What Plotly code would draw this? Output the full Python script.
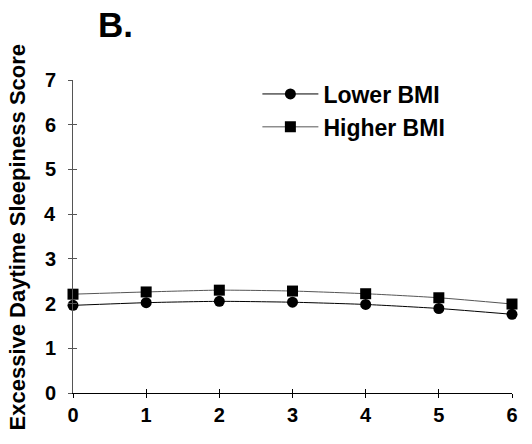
import plotly.graph_objects as go

x_vals = [0, 1, 2, 3, 4, 5, 6]
lower_bmi = [1.96, 2.02, 2.05, 2.03, 1.98, 1.89, 1.76]
higher_bmi = [2.21, 2.26, 2.30, 2.28, 2.22, 2.13, 1.99]
y_ticks = [0, 1, 2, 3, 4, 5, 6, 7]

font_family = "Liberation Sans, Arial, sans-serif"
PLOT_W = 532 - 73 - 20
PLOT_H = 444 - 80 - 51

fig = go.Figure()
fig.add_trace(go.Scatter(
    x=x_vals, y=lower_bmi, name="<b>Lower BMI</b>", mode="lines+markers",
    line=dict(color="black", width=1, shape="spline", smoothing=0.6),
    marker=dict(symbol="circle", size=11, color="black"),
    cliponaxis=False,
))
fig.add_trace(go.Scatter(
    x=x_vals, y=higher_bmi, name="<b>Higher BMI</b>", mode="lines+markers",
    line=dict(color="#555555", width=1, shape="spline", smoothing=0.6),
    marker=dict(symbol="square", size=11, color="black"),
    cliponaxis=False,
))
# empty trace to draw overlay axes (inside tick halves)
fig.add_trace(go.Scatter(x=[None], y=[None], xaxis="x2", yaxis="y2",
                         showlegend=False, hoverinfo="skip"))

annotations = [dict(text="<b>B.</b>", x=(96 - 73) / PLOT_W, y=1 + (80 - 3) / PLOT_H,
                    xref="paper", yref="paper", xanchor="left", yanchor="top",
                    showarrow=False,
                    font=dict(size=35, family=font_family, color="black"))]
# y tick labels placed on the y data scale
for v in y_ticks:
    annotations.append(dict(text=f"<b>{v}</b>", x=-15 / PLOT_W, y=v, xref="paper", yref="y",
                            xanchor="right", yanchor="middle", showarrow=False,
                            font=dict(size=20, family=font_family, color="black")))
# y axis title
annotations.append(dict(text="<b>Excessive Daytime Sleepiness Score</b>",
                        x=(17 - 73) / PLOT_W, y=0.497, xref="paper", yref="paper",
                        xanchor="center", yanchor="middle", textangle=-90, showarrow=False,
                        font=dict(size=22, family=font_family, color="black")))

fig.update_layout(
    width=532, height=444,
    margin=dict(l=73, r=20, t=80, b=51),
    paper_bgcolor="white", plot_bgcolor="white",
    font=dict(family=font_family, color="black"),
    showlegend=True,
    legend=dict(x=0.42, y=1.024, xanchor="left", yanchor="top",
                font=dict(size=23, family=font_family, color="black"),
                bgcolor="rgba(0,0,0,0)", tracegroupgap=0, itemwidth=56),
    annotations=annotations,
    xaxis=dict(
        range=[0, 6], tickvals=x_vals, ticktext=[f"<b>{v}</b>" for v in x_vals],
        showline=True, linecolor="black", linewidth=1, ticks="outside", ticklen=4,
        tickcolor="black", showgrid=False, zeroline=False,
        tickfont=dict(size=20, family=font_family, color="black"),
    ),
    yaxis=dict(
        range=[0, 7], tickvals=y_ticks, showticklabels=False,
        showline=True, linecolor="#555555", linewidth=1, ticks="outside", ticklen=4,
        tickcolor="#555555", showgrid=False, zeroline=False,
    ),
    xaxis2=dict(range=[0, 6], overlaying="x", tickvals=x_vals, showticklabels=False,
                ticks="inside", ticklen=4, tickcolor="black", showgrid=False,
                zeroline=False, showline=False),
    yaxis2=dict(range=[0, 7], overlaying="y", tickvals=y_ticks, showticklabels=False,
                ticks="inside", ticklen=4, tickcolor="#555555", showgrid=False,
                zeroline=False, showline=False),
)

fig.write_html("out.html")
